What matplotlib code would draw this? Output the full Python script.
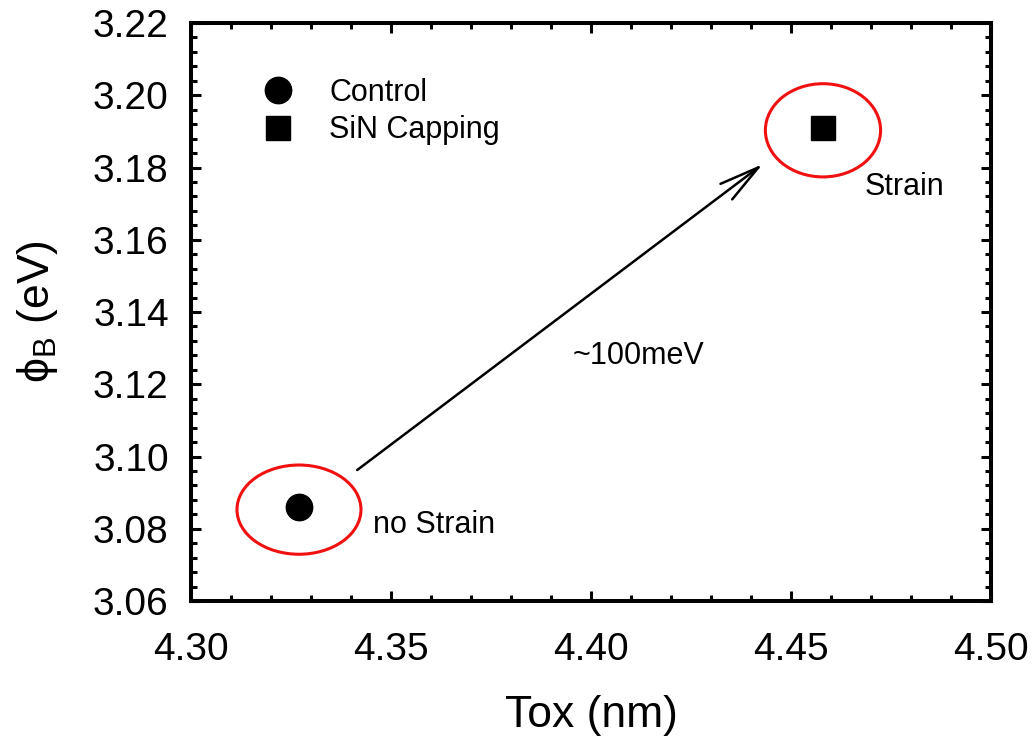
import numpy as np
import matplotlib
matplotlib.use("Agg")
import matplotlib.pyplot as plt
from matplotlib.patches import Ellipse
from matplotlib.ticker import MultipleLocator
from matplotlib.lines import Line2D

plt.rcParams['font.family'] = ['Liberation Sans', 'DejaVu Sans']
plt.rcParams['mathtext.fontset'] = 'custom'
plt.rcParams['mathtext.rm'] = 'Liberation Sans'

# data
labels = ['Control', 'SiN Capping']
tox = [4.327, 4.458]
phib = [3.086, 3.191]
markers = ['o', 's']

fig = plt.figure(figsize=(10.34, 7.4), dpi=100)
ax = fig.add_axes([0.1847, 0.1878, 0.7737, 0.7811])

for x, y, m in zip(tox, phib, markers):
    ax.plot(x, y, m, color='k', ms=19 if m == 'o' else 17)

# red rings round the points
ax.add_patch(Ellipse((tox[0], 3.0853), 0.031, 0.0247, fill=False, ec='#f01010', lw=2.2))
ax.add_patch(Ellipse((tox[1], 3.1903), 0.0288, 0.0258, fill=False, ec='#f01010', lw=2.2))

ax.annotate('', xy=(4.4435, 3.1814), xytext=(4.341, 3.0958),
            arrowprops=dict(arrowstyle='->,head_length=2.9,head_width=0.7', lw=1.8, color='k'))

ax.text(4.3455, 3.081, 'no Strain', fontsize=22, va='center')
ax.text(4.4685, 3.1747, 'Strain', fontsize=22, va='center')
ax.text(4.412, 3.1278, '~100meV', fontsize=22, ha='center', va='center')

handles = [Line2D([], [], ls='none', marker='o', color='k', ms=19),
           Line2D([], [], ls='none', marker='s', color='k', ms=17)]
ax.legend(handles, labels, loc='upper left', bbox_to_anchor=(0.07, 0.932), frameon=False,
          fontsize=22, handlelength=1.0, handletextpad=1.2, labelspacing=0.25, borderpad=0)

ax.set_xlim(4.30, 4.50)
ax.set_ylim(3.06, 3.22)
ax.xaxis.set_major_locator(MultipleLocator(0.05))
ax.xaxis.set_minor_locator(MultipleLocator(0.01))
ax.yaxis.set_major_locator(MultipleLocator(0.02))
ax.yaxis.set_minor_locator(MultipleLocator(0.004))
ax.xaxis.set_major_formatter(plt.FormatStrFormatter('%.2f'))
ax.yaxis.set_major_formatter(plt.FormatStrFormatter('%.2f'))
ax.tick_params(which='both', direction='in', top=True, right=True, width=2.2, labelsize=28)
ax.tick_params(axis='x', which='both', pad=22)
ax.tick_params(axis='y', which='both', pad=16)
ax.tick_params(which='major', length=7.5)
ax.tick_params(which='minor', length=4.5)
for s in ax.spines.values():
    s.set_linewidth(2.9)

ax.set_xlabel('Tox (nm)', fontsize=32, labelpad=20)
ax.set_ylabel(r'$\mathregular{\phi_B}$ (eV)', fontsize=32, labelpad=24)

fig.savefig('out.png', dpi=100)
